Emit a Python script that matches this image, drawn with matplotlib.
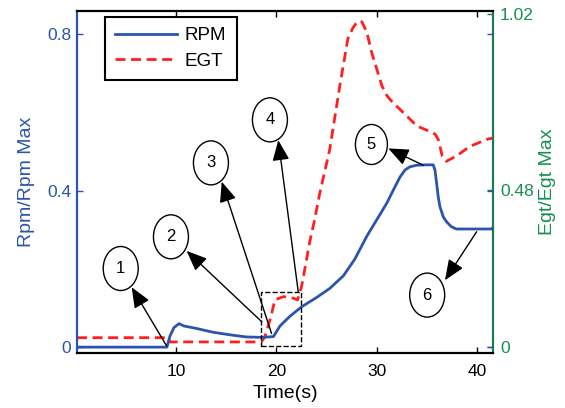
import matplotlib
matplotlib.use("Agg")
import matplotlib.pyplot as plt
from matplotlib.patches import Ellipse, Rectangle
from matplotlib.transforms import ScaledTranslation

plt.rcParams['font.family'] = ['Liberation Sans', 'DejaVu Sans']

# ---------------- data ----------------
t_rpm = [0.15, 9.1, 9.4, 9.8, 10.3, 10.8, 12.0, 13.7, 15.5, 17.0, 18.5, 19.2, 19.7,
         20.35, 21.3, 22.5, 24.0, 25.3, 26.65, 27.8, 29.0, 29.97, 31.0, 31.6, 32.3, 32.8,
         33.28, 33.95, 34.95, 35.6, 35.77, 35.94, 36.1, 36.27, 36.6, 36.94, 37.4, 37.9,
         41.4, 41.55]
rpm = [0.0, 0.0, 0.028, 0.05, 0.06, 0.054, 0.048, 0.038, 0.031, 0.026, 0.025, 0.026, 0.027,
       0.054, 0.078, 0.103, 0.127, 0.15, 0.182, 0.225, 0.284, 0.325, 0.369, 0.40, 0.435, 0.453,
       0.461, 0.465, 0.466, 0.466, 0.453, 0.419, 0.384, 0.359, 0.333, 0.32, 0.308, 0.302,
       0.302, 0.306]

t_egt = [0.15, 9.2, 9.4, 18.5, 18.85, 19.35, 19.85, 20.7, 21.7, 22.1, 22.5, 22.8, 23.3,
         23.8, 24.3, 25.3, 26.3, 27.1, 27.6, 28.0, 28.25, 28.5, 29.0, 29.5, 30.0, 30.5,
         31.0, 31.5, 32.3, 34.0, 35.3, 35.8, 36.1, 36.5, 36.9, 37.9, 39.25, 41.1, 41.55]
egt = [0.028, 0.028, 0.015, 0.015, 0.031, 0.082, 0.144, 0.154, 0.149, 0.144, 0.185, 0.235, 0.32,
       0.39, 0.47, 0.605, 0.80, 0.944, 0.978, 0.995, 1.0, 0.997, 0.964, 0.90, 0.85, 0.80,
       0.77, 0.752, 0.728, 0.677, 0.66, 0.652, 0.636, 0.585, 0.569, 0.585, 0.615, 0.638, 0.64]

series_names = ['RPM', 'EGT']
x_ticks = [10, 20, 30, 40]
left_ticks = [0, 0.4, 0.8]
left_ticklabels = ['0', '0.4', '0.8']
right_ticks = [0, 0.48, 1.02]
right_ticklabels = ['0', '0.48', '1.02']

# annotation markers (label, centre t, centre rpm, arrow tail t, tail rpm, head t, head rpm)
marker_labels = ['1', '2', '3', '4', '5', '6']
marker_t = [4.50, 9.50, 13.48, 19.35, 29.45, 35.0]
marker_r = [0.201, 0.282, 0.471, 0.581, 0.518, 0.133]
tail_t = [9.07, 18.53, 19.51, 22.17, 34.6, 39.92]
tail_r = [0.003, 0.065, 0.035, 0.141, 0.465, 0.295]
head_t = [5.59, 11.06, 14.55, 20.18, 31.13, 36.77]
head_r = [0.153, 0.246, 0.423, 0.529, 0.508, 0.171]

# zoom box (t range, rpm range)
box_t = [18.5, 22.4]
box_r = [0.003, 0.141]

# ---------------- style ----------------
BLUE = '#2b55ad'
GREEN = '#15904f'
GREEN_SPINE = '#1f7a55'
RED = '#ff1f1f'

fig = plt.figure(figsize=(5.65, 4.08), dpi=100)
ax = fig.add_axes([77/565, 1-353/408, (493-77)/565, (353-10.7)/408])
ax2 = ax.twinx()
ax.set_zorder(ax2.get_zorder() + 1)
ax.patch.set_visible(False)

l1, = ax.plot(t_rpm, rpm, color=BLUE, lw=2.0, solid_joinstyle='round')
l2, = ax2.plot(t_egt, egt, color=RED, lw=2.0, dashes=(3.6, 2.0))

ax.set_xlim(0.15, 41.55)
ax.set_ylim(-0.015, 0.86)
ax2.set_ylim(-0.019, 1.031)

ax.set_xticks(x_ticks)
ax.set_yticks(left_ticks)
ax.set_yticklabels(left_ticklabels)
ax2.set_yticks(right_ticks)
ax2.set_yticklabels(right_ticklabels)

ax.tick_params(axis='x', direction='in', top=True, length=4, width=1, labelsize=12.5,
               pad=8, colors='black')
ax.tick_params(axis='y', direction='in', right=True, labelright=False, length=4, width=1,
               labelsize=12.5, pad=4, colors=BLUE, labelcolor=BLUE)
ax2.tick_params(axis='y', direction='in', length=4, width=1, labelsize=12.5, pad=5,
                colors=GREEN_SPINE, labelcolor=GREEN)

for s in ['top', 'bottom']:
    ax.spines[s].set_linewidth(1.6)
    ax.spines[s].set_color('black')
ax.spines['left'].set_linewidth(1.6)
ax.spines['left'].set_color(BLUE)
ax.spines['right'].set_visible(False)
for s in ['top', 'bottom', 'left']:
    ax2.spines[s].set_visible(False)
ax2.spines['right'].set_linewidth(1.6)
ax2.spines['right'].set_color(GREEN_SPINE)

ax.set_xlabel('Time(s)', fontsize=14, labelpad=4)
ax.set_ylabel('Rpm/Rpm Max', fontsize=14, color=BLUE, labelpad=9)
ax2.set_ylabel('Egt/Egt Max', fontsize=14, color=GREEN, labelpad=4)

# zoom box
ax.add_patch(Rectangle((box_t[0], box_r[0]), box_t[1]-box_t[0], box_r[1]-box_r[0],
                       fill=False, ec='black', lw=1.0, ls='--', zorder=3))

# annotations
for i, lab in enumerate(marker_labels):
    w, h = (0.32, 0.40) if lab == '5' else (0.35, 0.44)
    tr = fig.dpi_scale_trans + ScaledTranslation(marker_t[i], marker_r[i], ax.transData)
    ax.add_patch(Ellipse((0, 0), w, h, transform=tr, fill=False, ec='black', lw=1.0,
                         zorder=4))
    ax.text(marker_t[i], marker_r[i], lab, ha='center', va='center', fontsize=12,
            color='black', zorder=5)
    ax.annotate('', xy=(head_t[i], head_r[i]), xytext=(tail_t[i], tail_r[i]),
                arrowprops=dict(arrowstyle='-|>,head_length=1.25,head_width=0.52',
                                color='black', lw=1.0, shrinkA=0, shrinkB=0,
                                mutation_scale=10), zorder=5)

leg = ax.legend([l1, l2], series_names, loc='upper left',
                bbox_to_anchor=((105-77)/416, 1-(16.7-10.7)/342.3), borderaxespad=0,
                fontsize=13.5, handlelength=3.3, handletextpad=0.4, labelspacing=0.45,
                borderpad=0.55, fancybox=False, framealpha=1, edgecolor='black')
leg.get_frame().set_linewidth(1.5)

fig.savefig('out.png', dpi=100)
